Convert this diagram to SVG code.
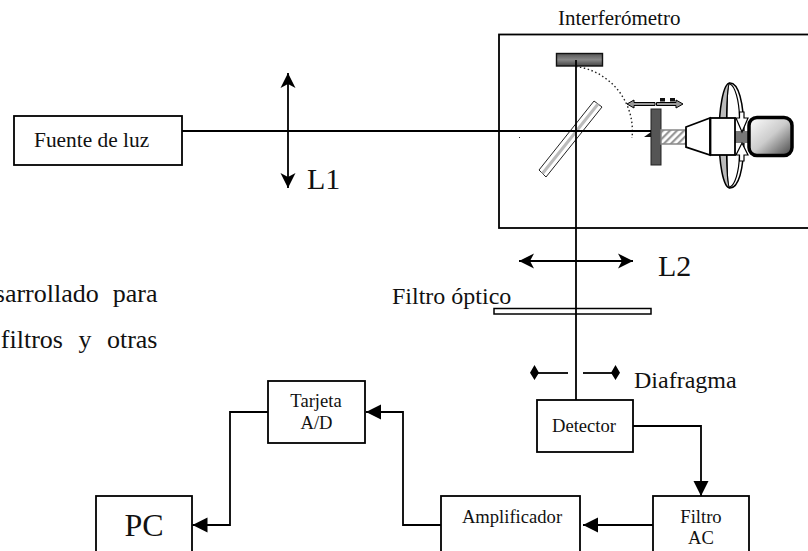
<svg xmlns="http://www.w3.org/2000/svg" width="808" height="551" viewBox="0 0 808 551">
<style>
text{font-family:"Liberation Serif","Times New Roman",serif;fill:#111}
.b{fill:#fff;stroke:#000;stroke-width:1.8}
.l{fill:none;stroke:#000;stroke-width:1.8}
.s{font-size:18.6px}.c{text-anchor:middle}.h{font-size:30px}.m{font-size:24px}
</style>
<defs>
<marker id="a" markerUnits="userSpaceOnUse" markerWidth="16" markerHeight="16" refX="15" refY="8" orient="auto"><path d="M0,0.5L15,8L0,15.5z" fill="#000"/></marker>
<marker id="o" markerUnits="userSpaceOnUse" markerWidth="16" markerHeight="16" refX="15" refY="8" orient="auto-start-reverse"><path d="M0,0.5L15,8L0,15.5L4,8z" fill="#000"/></marker>
<linearGradient id="g1" x1="0" y1="0" x2="1" y2="1"><stop offset="0" stop-color="#fff"/><stop offset="0.5" stop-color="#ccc"/><stop offset="1" stop-color="#444"/></linearGradient>
<linearGradient id="g2" x1="0" y1="0" x2="0" y2="1"><stop offset="0" stop-color="#555"/><stop offset="0.5" stop-color="#888"/><stop offset="1" stop-color="#444"/></linearGradient>
<pattern id="h" width="5" height="5" patternUnits="userSpaceOnUse" patternTransform="rotate(45)"><rect width="5" height="5" fill="#fff"/><rect width="2.200" height="5" fill="#999"/></pattern>
</defs>
<g id="texto" font-size="26">
<text x="157.500" y="302" text-anchor="end" word-spacing="7.500">sarrollado para</text>
<text x="157.500" y="348" text-anchor="end" word-spacing="9">filtros y otras</text></g>
<g id="interferometro">
<rect x="499" y="34.500" width="330" height="193.500" class="b"/>
<text x="558" y="25" font-size="21">Interferómetro</text>
<rect x="556.500" y="53.500" width="46" height="12.500" fill="url(#g2)" stroke="#111" stroke-width="1.400"/>
<path d="M576,66.500A65,65 0 0 1 632,138" fill="none" stroke="#222" stroke-width="1.400" stroke-dasharray="1.500 2.500"/>
<path d="M594,101L602,107L546,177L539,170z" fill="#fff" stroke="#222" stroke-width="1"/>
<path d="M598,104L542.500,173.500" stroke="#bbb" stroke-width="3" fill="none"/>
<rect x="519" y="137" width="1" height="1" fill="#222"/>
<rect x="651" y="109" width="10" height="56" fill="#555" stroke="#222" stroke-width="1"/>
<path d="M644,137L651,137L651,132z" fill="#111"/>
<rect x="661" y="130" width="25" height="14" fill="url(#h)" stroke="#888" stroke-width="1.500"/>
<path d="M730,83C738,83 744,100 744,136C744,172 738,188 730,188C727,188 726.500,162 726.500,136C726.500,110 727,83 730,83z" fill="#fff" stroke="#000" stroke-width="1.500"/>
<path d="M730,83C723,83 719,110 719,136C719,162 723,188 730,188C727,188 726.500,162 726.500,136C726.500,110 727,83 730,83z" fill="#bbb" stroke="#000" stroke-width="1.500"/>
<path d="M730,84C735,86 739,100 739.500,117M730,187C735,185 739,172 739.500,155" fill="none" stroke="#000" stroke-width="1.200"/>
<rect x="735" y="131" width="13" height="12" fill="#777"/>
<path d="M686,127L710,118V155L686,147z" fill="#fff" stroke="#000" stroke-width="1.800"/>
<rect x="710.500" y="118" width="24.500" height="37" fill="#fff" stroke="#000" stroke-width="1.800"/>
<path d="M739.500,112V118H736L742,132L748,118H744V112z" fill="#fff" stroke="#000" stroke-width="1.200"/>
<path d="M739.500,161V155H736L742,143L748,155H744V161z" fill="#fff" stroke="#000" stroke-width="1.200"/>
<rect x="749" y="117.500" width="43" height="38" rx="8" fill="url(#g1)" stroke="#000" stroke-width="3.500"/>
<path d="M627,104L634,100L634,102.500L655,102.500L655,105.500L634,105.500L634,108z" fill="#999" stroke="#000" stroke-width="1"/>
<path d="M683,104L676,100L676,102.500L656.500,102.500L656.500,105.500L676,105.500L676,108z" fill="#999" stroke="#000" stroke-width="1"/>
<rect x="660" y="98" width="5" height="3.500" fill="#111"/><rect x="670" y="98" width="5" height="3.500" fill="#111"/>
</g>
<g id="connectors">
<path class="l" d="M182,131H651"/>
<path class="l" d="M576,60V400"/>
<path class="l" d="M288,73V188" marker-start="url(#o)" marker-end="url(#o)"/>
<path class="l" d="M519,261H633" marker-start="url(#o)" marker-end="url(#o)"/>
<path class="l" d="M537,373H568"/>
<path class="l" d="M583,373H613"/>
<path d="M534.500,365L539,372.700L534.500,380L530,372.700z M615.500,365L620,372.700L615.500,380L611,372.700z" fill="#000"/>
<path class="l" d="M633,426H701V496" marker-end="url(#a)"/>
<path class="l" d="M653,525H583" marker-end="url(#a)"/>
<path class="l" d="M441,525H403V412H366" marker-end="url(#a)"/>
<path class="l" d="M268,412H230V525H192.500" marker-end="url(#a)"/>
</g>
<g id="fuente"><rect x="14" y="116" width="168" height="49" class="b"/><text x="34" y="147" font-size="21.400">Fuente de luz</text></g>
<g id="L1"><text x="307" y="189" class="h">L1</text></g>
<g id="L2"><text x="658" y="276" class="h">L2</text></g>
<g id="filtro-optico"><text x="392" y="304" class="m">Filtro óptico</text><rect x="494" y="308.500" width="157" height="5.500" fill="#fff" stroke="#000" stroke-width="1.500"/><path class="l" d="M576,308V314"/></g>
<g id="diafragma"><text x="634" y="388" class="m">Diafragma</text></g>
<g id="detector"><rect x="537" y="400" width="96" height="52" class="b"/><text x="584" y="432" class="s c">Detector</text></g>
<g id="filtro-ac"><rect x="653" y="496" width="96" height="60" class="b"/><text x="701" y="523" class="s c">Filtro</text><text x="701" y="544" class="s c">AC</text></g>
<g id="amplificador"><rect x="441" y="496" width="139" height="60" class="b"/><text x="512" y="523" class="s c">Amplificador</text></g>
<g id="tarjeta"><rect x="268" y="381" width="97" height="62" class="b"/><text x="316" y="407" class="s c">Tarjeta</text><text x="316.500" y="429" class="s c">A/D</text></g>
<g id="pc"><rect x="96" y="496" width="96" height="60" class="b"/><text x="144" y="536" font-size="32" class="c">PC</text></g>
</svg>
